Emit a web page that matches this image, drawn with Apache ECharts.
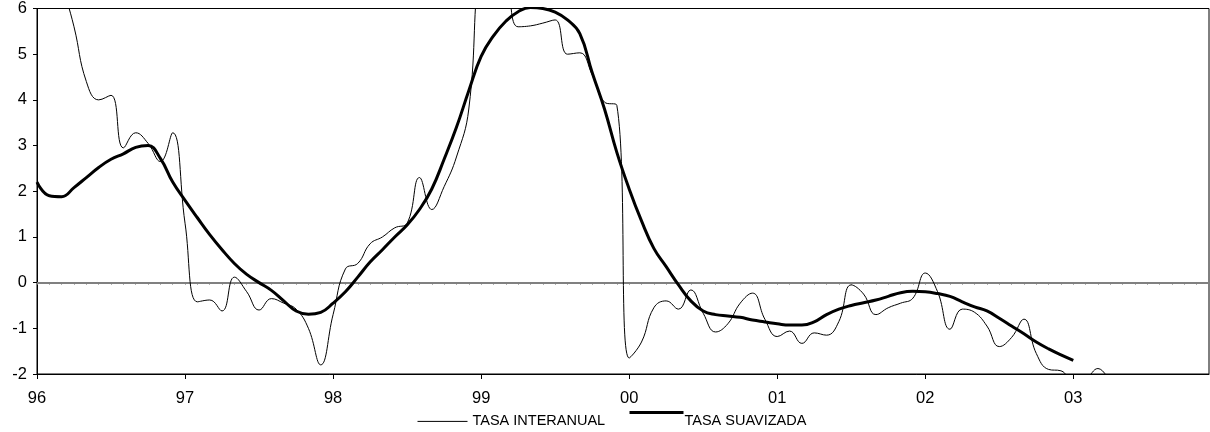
<!DOCTYPE html>
<html>
<head>
<meta charset="utf-8">
<script src="https://cdn.jsdelivr.net/npm/echarts@6/dist/echarts.min.js"></script>
<style>
  html, body { margin: 0; padding: 0; background: #fff; }
  #chart { width: 1210px; height: 432px; }
</style>
</head>
<body>
<div id="chart"></div>
<script>
// years shown on the axis, one category per month
const years = ['96', '97', '98', '99', '00', '01', '02', '03']
const months = []
years.forEach(y => {
  for (let m = 1; m <= 12; m++) months.push(y + '-' + (m < 10 ? '0' + m : m))
})

// TASA INTERANUAL (monthly, ends early 2003)
const tasaInteranual = [
  8.5, 7.8, 6.6, 5.6, 4.4, 4.0, 4.1, 2.95, 3.28, 3.05, 2.65, 3.28,
  1.3, -0.42, -0.38, -0.62, 0.12, -0.2, -0.6, -0.35, -0.45, -0.58, -1.0, -1.8,
  -0.7, 0.3, 0.42, 0.85, 1.0, 1.2, 1.3, 2.3, 1.6, 2.1, 2.75, 3.8,
  7.2, 7.5, 6.8, 5.6, 5.62, 5.68, 5.75, 5.0, 5.03, 4.55, 3.95, 3.88,
  -1.65, -1.3, -0.55, -0.4, -0.58, -0.16, -0.67, -1.08, -0.9, -0.45, -0.23, -0.8,
  -1.18, -1.06, -1.33, -1.1, -1.15, -0.85, -0.05, -0.25, -0.7, -0.55, -0.45, -0.34,
  0.21, -0.2, -1.02, -0.58, -0.65, -0.95, -1.4, -1.2, -0.8, -1.55, -1.9, -1.93,
  -2.15, -2.1, -1.88, -2.2
]

// TASA SUAVIZADA (monthly, ends Jan 2003)
const tasaSuavizada = [
  2.2, 1.9, 1.88, 2.08, 2.3, 2.52, 2.7, 2.82, 2.96, 3.0, 2.72, 2.2,
  1.8, 1.42, 1.05, 0.72, 0.42, 0.18, 0.0, -0.17, -0.4, -0.62, -0.69, -0.65,
  -0.45, -0.2, 0.12, 0.45, 0.72, 1.0, 1.26, 1.6, 2.05, 2.7, 3.4, 4.2,
  4.95, 5.4, 5.72, 5.93, 6.02, 6.0, 5.92, 5.75, 5.45, 4.6, 3.8, 2.85,
  2.05, 1.35, 0.75, 0.35, -0.05, -0.4, -0.62, -0.7, -0.73, -0.76, -0.82, -0.86,
  -0.9, -0.93, -0.93, -0.86, -0.7, -0.58, -0.5, -0.44, -0.38, -0.3, -0.22, -0.19,
  -0.2, -0.24, -0.3, -0.42, -0.53, -0.62, -0.78, -0.95, -1.12, -1.3, -1.45, -1.58,
  -1.7
]

const font = 'Liberation Sans, Arial, sans-serif'
const chart = echarts.init(document.getElementById('chart'))

chart.setOption({
  animation: false,
  textStyle: { fontFamily: font, color: '#000' },
  grid: {
    left: 37,
    right: 1,
    top: 8,
    bottom: 58,
    show: true,
    borderColor: '#000',
    borderWidth: 1
  },
  legend: [
    {
      left: 412,
      top: 406,
      itemWidth: 50,
      itemHeight: 26,
      itemStyle: { opacity: 0 },
      textStyle: { fontFamily: font, fontSize: 14.5, color: '#000' },
      data: [{ name: 'TASA INTERANUAL', lineStyle: { width: 1, color: '#000' } }]
    },
    {
      // the thick sample sits a little higher than its label
      left: 623,
      top: 397,
      itemWidth: 54,
      itemHeight: 26,
      itemStyle: { opacity: 0 },
      formatter: name => '{t|' + name + '}',
      textStyle: {
        fontFamily: font,
        fontSize: 14.5,
        color: '#000',
        rich: { t: { fontFamily: font, fontSize: 14.5, color: '#000', padding: [18, 0, 0, -4] } }
      },
      data: [{ name: 'TASA SUAVIZADA', lineStyle: { width: 3, color: '#000' } }]
    }
  ],
  xAxis: [
    {
      type: 'category',
      data: months,
      boundaryGap: false,
      position: 'bottom',
      axisLine: { onZero: false, lineStyle: { color: '#000', width: 1 } },
      axisTick: { show: true, interval: 11, length: 5, lineStyle: { color: '#000' } },
      axisLabel: {
        interval: 11,
        margin: 16,
        fontSize: 16.5,
        fontFamily: font,
        color: '#000',
        formatter: v => v.slice(0, 2)
      },
      splitLine: { show: false }
    },
    {
      type: 'category',
      data: months,
      boundaryGap: false,
      position: 'bottom',
      axisLine: { onZero: true, lineStyle: { color: '#808080', width: 2 } },
      axisTick: { show: true, interval: 0, length: 2, lineStyle: { color: '#808080' } },
      axisLabel: { show: false },
      splitLine: { show: false }
    }
  ],
  yAxis: {
    type: 'value',
    min: -2,
    max: 6,
    interval: 1,
    axisLine: { show: true, lineStyle: { color: '#000' } },
    axisTick: { show: true, length: 4, lineStyle: { color: '#000' } },
    axisLabel: { margin: 10, fontSize: 16.5, fontFamily: font, color: '#000' },
    splitLine: { show: false }
  },
  series: [
    {
      name: 'TASA INTERANUAL',
      type: 'line',
      data: tasaInteranual,
      smooth: 0.45,
      showSymbol: false,
      symbol: 'none',
      lineStyle: { color: '#000', width: 1 },
      itemStyle: { color: '#000' },
      z: 3
    },
    {
      name: 'TASA SUAVIZADA',
      type: 'line',
      data: tasaSuavizada,
      smooth: 0.45,
      showSymbol: false,
      symbol: 'none',
      lineStyle: { color: '#000', width: 3 },
      itemStyle: { color: '#000' },
      z: 4
    }
  ]
})
</script>
</body>
</html>
